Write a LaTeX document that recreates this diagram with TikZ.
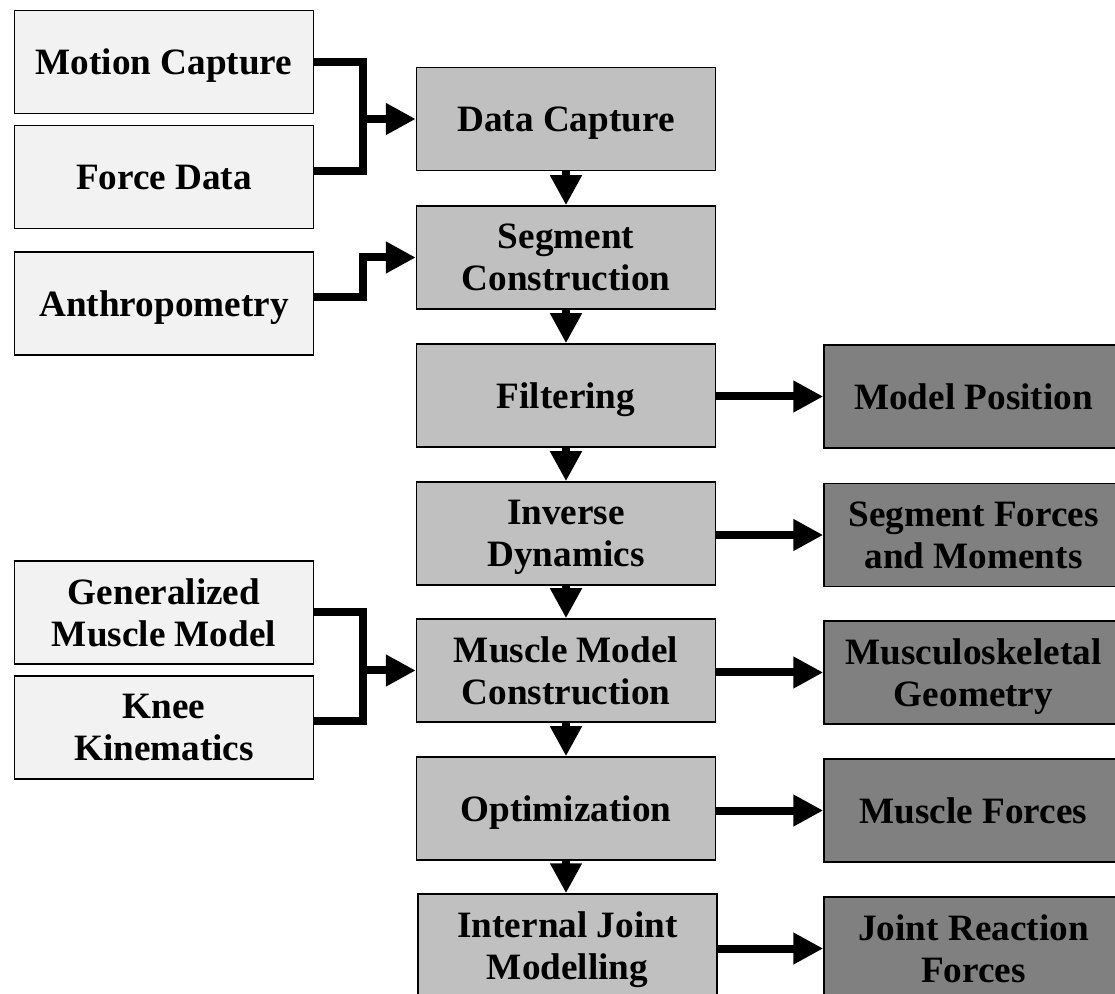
\documentclass[tikz,border=0pt]{standalone}
\usepackage{fontspec}
\setmainfont{Liberation Serif}
\usepackage{tikz}
\usetikzlibrary{arrows.meta, calc}
\definecolor{boxlight}{RGB}{242,242,242}
\definecolor{boxmid}{RGB}{192,192,192}
\definecolor{boxdark}{RGB}{128,128,128}
\tikzset{
  % Blocchi del diagramma
  box/.style={draw=black,line width=0.75pt,rectangle,minimum width=149.5pt,minimum height=51.5pt,
    inner sep=0,align=center,text depth=0pt,font=\fontsize{18.6}{20.85}\selectfont\bfseries},
  box in/.style={box,fill=boxlight},
  box proc/.style={box,fill=boxmid},
  box out/.style={box,fill=boxdark},
  % Connessioni
  connect/.style={line width=4pt,line join=miter},
  connect arrow/.style={connect,-{Triangle[length=15pt,width=15pt]}}
}
\begin{document}
\begin{tikzpicture}[x=0.5pt,y=-0.5pt]
  \path[use as bounding box] (0,0) rectangle (1115,994);
  \clip (0,0) rectangle (1115,994);
  % ingressi
  \node[box in] (mocap) at (164,62) {Motion Capture};
  \node[box in] (force) at (164,177) {Force Data};
  \node[box in] (anthro) at (164,303.5) {Anthropometry};
  \node[box in] (genmus) at (164,612.5) {Generalized\\Muscle Model};
  \node[box in] (knee) at (164,727.5) {Knee\\Kinematics};
  % fasi di elaborazione
  \node[box proc] (dcap) at (566,119) {Data Capture};
  \node[box proc] (segcon) at (566,257.5) {Segment\\Construction};
  \node[box proc] (filt) at (566,395.5) {Filtering};
  \node[box proc] (invdyn) at (566,533.5) {Inverse\\Dynamics};
  \node[box proc] (musmod) at (566,670.5) {Muscle Model\\Construction};
  \node[box proc] (optim) at (566,808.5) {Optimization};
  \node[box proc] (ijoint) at (567.5,945.5) {Internal Joint\\Modelling};
  % uscite
  \node[box out] (modpos) at (973.5,396.5) {Model Position};
  \node[box out] (segfor) at (973.5,535) {Segment Forces\\and Moments};
  \node[box out] (mskgeo) at (973.5,672.5) {Musculoskeletal\\Geometry};
  \node[box out] (musfor) at (973.5,810.5) {Muscle Forces};
  \node[box out] (jreact) at (973.5,948.5) {Joint Reaction\\Forces};
  % giunzioni
  \coordinate (j1) at (363,119);
  \coordinate (j2) at (363,257.5);
  \coordinate (j3) at (363,670.5);
  \draw[connect] (mocap.east) -| (j1) |- ([yshift=3pt]force.east);
  \draw[connect arrow] (j1) -- (dcap.west);
  \draw[connect arrow] ([yshift=3.25pt]anthro.east) -| (j2) -- (segcon.west);
  \draw[connect] (genmus.east) -| (j3) |- ([yshift=3.25pt]knee.east);
  \draw[connect arrow] (j3) -- (musmod.west);
  % catena verticale
  \draw[connect arrow] (dcap.south) -- (segcon.north);
  \draw[connect arrow] (segcon.south) -- (filt.north);
  \draw[connect arrow] (filt.south) -- (invdyn.north);
  \draw[connect arrow] (invdyn.south) -- (musmod.north);
  \draw[connect arrow] (musmod.south) -- (optim.north);
  \draw[connect arrow] (optim.south) -- (optim.south |- ijoint.north);
  % uscite a destra
  \draw[connect arrow] (filt.east |- modpos) -- (modpos.west);
  \draw[connect arrow] (invdyn.east |- segfor) -- (segfor.west);
  \draw[connect arrow] (musmod.east |- mskgeo) -- (mskgeo.west);
  \draw[connect arrow] (optim.east |- musfor) -- (musfor.west);
  \draw[connect arrow] (ijoint.east |- jreact) -- (jreact.west);
\end{tikzpicture}
\end{document}
